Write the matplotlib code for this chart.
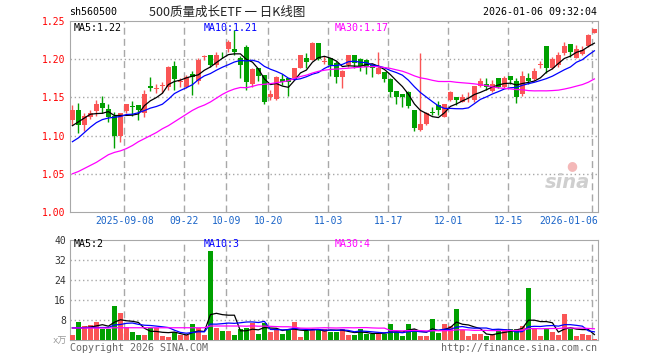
import numpy as np
import pandas as pd
import matplotlib
matplotlib.use("Agg")
import matplotlib.pyplot as plt

# daily candles, 2025-08-26 .. 2026-01-06
opens = [1.121, 1.133, 1.114, 1.125, 1.132, 1.143, 1.135, 1.125, 1.100, 1.132,
         1.139, 1.140, 1.130, 1.165, 1.161, 1.165, 1.164, 1.191, 1.170, 1.164,
         1.180, 1.171, 1.203, 1.205, 1.193, 1.206, 1.214, 1.214, 1.201, 1.216,
         1.168, 1.188, 1.179, 1.150, 1.148, 1.174, 1.175, 1.175, 1.189, 1.202,
         1.199, 1.221, 1.196, 1.201, 1.195, 1.177, 1.192, 1.205, 1.200, 1.199,
         1.192, 1.181, 1.183, 1.174, 1.158, 1.155, 1.157, 1.133, 1.107, 1.115,
         1.131, 1.140, 1.125, 1.147, 1.151, 1.144, 1.150, 1.146, 1.165, 1.168,
         1.158, 1.175, 1.163, 1.178, 1.171, 1.155, 1.175, 1.174, 1.193, 1.217,
         1.188, 1.193, 1.208, 1.220, 1.202, 1.207, 1.217, 1.234]
highs = [1.140, 1.143, 1.130, 1.133, 1.147, 1.152, 1.141, 1.131, 1.130, 1.141,
         1.145, 1.140, 1.160, 1.177, 1.168, 1.170, 1.191, 1.197, 1.175, 1.179,
         1.184, 1.201, 1.206, 1.206, 1.210, 1.210, 1.225, 1.238, 1.204, 1.218,
         1.188, 1.188, 1.179, 1.160, 1.178, 1.180, 1.175, 1.188, 1.206, 1.208,
         1.222, 1.221, 1.204, 1.201, 1.197, 1.186, 1.206, 1.206, 1.201, 1.200,
         1.194, 1.209, 1.183, 1.175, 1.158, 1.155, 1.158, 1.134, 1.208, 1.131,
         1.138, 1.145, 1.141, 1.158, 1.151, 1.155, 1.157, 1.165, 1.175, 1.175,
         1.173, 1.175, 1.178, 1.178, 1.175, 1.184, 1.182, 1.188, 1.197, 1.217,
         1.203, 1.209, 1.222, 1.220, 1.218, 1.217, 1.233, 1.240]
lows = [1.114, 1.103, 1.106, 1.122, 1.126, 1.130, 1.118, 1.084, 1.092, 1.129,
        1.126, 1.120, 1.124, 1.158, 1.156, 1.156, 1.160, 1.160, 1.164, 1.162,
        1.153, 1.168, 1.199, 1.190, 1.190, 1.201, 1.210, 1.206, 1.175, 1.160,
        1.164, 1.172, 1.142, 1.146, 1.147, 1.166, 1.152, 1.173, 1.188, 1.188,
        1.199, 1.199, 1.194, 1.178, 1.169, 1.162, 1.190, 1.188, 1.185, 1.180,
        1.177, 1.180, 1.170, 1.151, 1.141, 1.138, 1.136, 1.106, 1.106, 1.114,
        1.127, 1.127, 1.124, 1.145, 1.140, 1.144, 1.144, 1.144, 1.163, 1.160,
        1.157, 1.162, 1.162, 1.168, 1.143, 1.152, 1.167, 1.171, 1.188, 1.182,
        1.187, 1.190, 1.206, 1.203, 1.201, 1.206, 1.216, 1.234]
closes = [1.134, 1.114, 1.126, 1.129, 1.141, 1.136, 1.125, 1.100, 1.130, 1.141,
          1.138, 1.133, 1.154, 1.162, 1.162, 1.166, 1.190, 1.174, 1.171, 1.177,
          1.177, 1.199, 1.204, 1.192, 1.206, 1.205, 1.223, 1.209, 1.192, 1.170,
          1.187, 1.178, 1.144, 1.155, 1.177, 1.170, 1.170, 1.188, 1.205, 1.196,
          1.221, 1.200, 1.197, 1.193, 1.177, 1.185, 1.205, 1.195, 1.191, 1.190,
          1.189, 1.189, 1.174, 1.157, 1.150, 1.151, 1.139, 1.110, 1.115, 1.130,
          1.130, 1.133, 1.141, 1.157, 1.146, 1.150, 1.151, 1.165, 1.171, 1.163,
          1.168, 1.164, 1.175, 1.173, 1.151, 1.178, 1.171, 1.184, 1.194, 1.188,
          1.200, 1.206, 1.217, 1.209, 1.213, 1.212, 1.232, 1.239]
# volume, 万
volumes = [2.0, 7.3, 5.6, 6.0, 7.3, 4.4, 4.3, 13.6, 10.9, 5.3,
           3.3, 2.0, 2.0, 4.9, 4.9, 1.6, 1.3, 3.1, 2.0, 2.0,
           6.3, 4.7, 2.0, 35.7, 4.7, 3.6, 3.6, 2.0, 4.4, 4.9,
           6.7, 2.3, 6.7, 3.3, 4.4, 2.3, 4.4, 7.3, 1.3, 3.6,
           4.4, 4.4, 4.3, 3.3, 3.3, 4.3, 2.0, 2.0, 4.4, 2.3,
           2.3, 2.3, 2.3, 6.4, 3.3, 1.6, 6.4, 4.4, 1.6, 1.6,
           8.4, 3.0, 6.4, 5.7, 12.4, 4.0, 1.6, 2.4, 2.4, 1.6,
           2.4, 4.4, 4.4, 4.4, 4.4, 5.7, 20.7, 4.4, 1.6, 4.4,
           3.4, 2.0, 10.4, 4.4, 1.6, 2.4, 2.0, 0.4]

# moving-average values before the window is full
ma5_head = [1.113, 1.118, 1.123, 1.128]
ma10_head = [1.092, 1.097, 1.104, 1.111, 1.117, 1.121, 1.123, 1.124, 1.125]
ma30_head = [1.050, 1.053, 1.057, 1.061, 1.065, 1.070, 1.075, 1.078, 1.080, 1.083,
             1.087, 1.092, 1.096, 1.100, 1.104, 1.109, 1.113, 1.118, 1.123, 1.128,
             1.133, 1.137, 1.140, 1.144, 1.149, 1.154, 1.158, 1.161, 1.163]
vma5_head = [4.8, 4.8, 5.0, 5.2]
vma10_head = [4.9, 4.9, 4.9, 5.0, 5.0, 5.0, 5.0, 6.0, 6.2]
vma30_head = [4.8, 4.8, 4.8, 4.8, 4.8, 4.8, 4.8, 4.9, 4.9, 4.9,
              4.9, 4.9, 4.9, 4.9, 4.9, 4.9, 4.9, 4.9, 4.9, 4.9,
              4.9, 4.9, 4.9, 5.6, 5.6, 5.6, 5.6, 5.6, 5.6]

holidays = ["2025-10-01", "2025-10-02", "2025-10-03", "2025-10-06", "2025-10-07",
            "2025-10-08", "2026-01-01", "2026-01-02"]
tick_dates = ["2025-09-08", "2025-09-22", "2025-10-09", "2025-10-20", "2025-11-03",
              "2025-11-17", "2025-12-01", "2025-12-15", "2026-01-06"]
tick_labels = ["2025-09-08", "09-22", "10-09", "10-20", "11-03", "11-17",
               "12-01", "12-15", "2026-01-06"]
price_levels = [1.00, 1.05, 1.10, 1.15, 1.20, 1.25]
vol_levels = [8, 16, 24, 32, 40]

days = pd.bdate_range("2025-08-26", "2026-01-06").drop(pd.to_datetime(holidays))
df = pd.DataFrame({"o": opens, "h": highs, "l": lows, "c": closes, "v": volumes}, index=days)


def ma(s, n, head):
    m = s.rolling(n).mean().to_numpy()
    m[:n - 1] = head
    return m


RED, GREEN = "#fa5555", "#00a000"
GRIDC = "#a8a8a8"
MONO = "DejaVu Sans Mono"
W, H = 660, 360

fig = plt.figure(figsize=(6.6, 3.6), dpi=100)
ax = fig.add_axes([70 / W, 1 - 212 / H, 528 / W, 191 / H])
vax = fig.add_axes([70 / W, 1 - 340 / H, 528 / W, 100 / H])

x = np.arange(len(df))
up = df.c >= df.o
colors = np.where(up, RED, GREEN)

# candles
ax.vlines(x, df.l, df.h, colors=colors, lw=1, zorder=3)
body = np.maximum((df.c - df.o).abs(), 0.0009)
ax.bar(x, body, bottom=np.minimum(df.o, df.c), width=0.8, color=colors, lw=0, zorder=3)

ax.plot(x, ma(df.c, 5, ma5_head), color="black", lw=0.9, zorder=4)
ax.plot(x, ma(df.c, 10, ma10_head), color="#0000ff", lw=0.9, zorder=4)
ax.plot(x, ma(df.c, 30, ma30_head), color="#ff00ff", lw=0.9, zorder=4)

# volume
vax.bar(x, df.v, width=0.8, color=colors, lw=0, zorder=3)
vax.plot(x, ma(df.v, 5, vma5_head), color="black", lw=0.9, zorder=4)
vax.plot(x, ma(df.v, 10, vma10_head), color="#0000ff", lw=0.9, zorder=4)
vax.plot(x, ma(df.v, 30, vma30_head), color="#ff00ff", lw=0.9, zorder=4)

tick_idx = [days.get_loc(pd.Timestamp(d)) - 0.35 for d in tick_dates]

for a in (ax, vax):
    a.set_xlim(-0.4, 87.6)
    a.set_xticks([])
    for sp in a.spines.values():
        sp.set_color(GRIDC)
    a.tick_params(axis="y", length=0, pad=3, labelsize=7)
    for t in tick_idx:
        a.axvline(t, color=GRIDC, lw=1, ls=(0, (5, 3)), zorder=1)

ax.set_ylim(1.0, 1.25)
ax.set_yticks(price_levels)
ax.set_yticklabels([f"{v:.2f}" for v in price_levels], color="red", family=MONO)
for v in price_levels[1:-1]:
    ax.axhline(v, color=GRIDC, lw=1, ls=(0, (1, 2)), zorder=1)

vax.set_ylim(0, 40)
vax.set_yticks(vol_levels)
vax.set_yticklabels([str(v) for v in vol_levels], color="#333333", family=MONO)
for v in vol_levels[:-1]:
    vax.axhline(v, color=GRIDC, lw=1, ls=(0, (1, 2)), zorder=1)

# date labels under the price panel
for t, lab in zip(tick_idx[:-1], tick_labels[:-1]):
    ax.text(t, -0.045, lab, transform=ax.get_xaxis_transform(), ha="center", va="center",
            fontsize=7, family=MONO, color="#1a64c8")
ax.text(87.6, -0.045, tick_labels[-1], transform=ax.get_xaxis_transform(), ha="right",
        va="center", fontsize=7, family=MONO, color="#1a64c8")


def ftext(px, py, s, **kw):
    kw.setdefault("family", MONO)
    kw.setdefault("fontsize", 7.2)
    kw.setdefault("va", "center")
    fig.text(px / W, 1 - py / H, s, **kw)


ftext(69, 12, "sh560500", color="black")
ftext(149, 12, "500质量成长ETF 一 日K线图", color="#222222",
      family=["Noto Sans CJK SC", "DejaVu Sans"], fontsize=9)
ftext(597, 12, "2026-01-06 09:32:04", color="black", ha="right")

ftext(74, 28, "MA5:1.22", color="black")
ftext(204, 28, "MA10:1.21", color="#0000ff")
ftext(335, 28, "MA30:1.17", color="#ff00ff")
ftext(74, 244, "MA5:2", color="black")
ftext(204, 244, "MA10:3", color="#0000ff")
ftext(335, 244, "MA30:4", color="#ff00ff")

ftext(67, 341, "x万", color="#999999", ha="right", family=["DejaVu Sans Mono", "Noto Sans CJK SC"],
      fontsize=6.5)
ftext(70, 348, "Copyright 2026 SINA.COM", color="#666666")
ftext(597, 348, "http://finance.sina.com.cn", color="#666666", ha="right")

ftext(590, 182, "sina", color="#cfcfcf", ha="right", family="DejaVu Sans", fontsize=14,
      fontweight="bold", fontstyle="italic")
ftext(572, 166, "●", color="#f4b8b8", ha="center", family="DejaVu Sans", fontsize=9)

fig.savefig("out.png", dpi=100)
